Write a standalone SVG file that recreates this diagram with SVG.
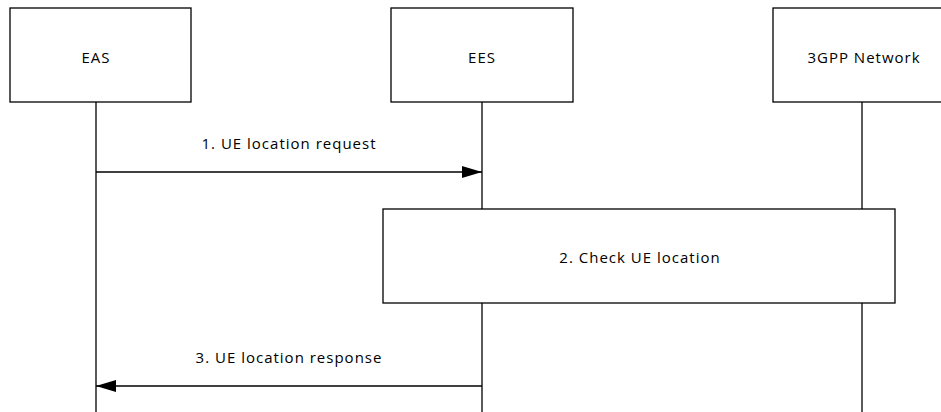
<svg xmlns="http://www.w3.org/2000/svg" width="941" height="412" viewBox="0 0 941 412">
<style>
.box{fill:#fff;stroke:#000;stroke-width:1.3}
.life{stroke:#000;stroke-width:1.3;fill:none}
.msg{stroke:#000;stroke-width:1.3;fill:none}
text{font-family:"Open Sans","Liberation Sans",sans-serif;font-size:15px;letter-spacing:1px;fill:#000;text-anchor:middle}
</style>
<defs>
<marker id="ah" viewBox="0 0 20 12" refX="20" refY="6" markerWidth="20" markerHeight="12" markerUnits="userSpaceOnUse" orient="auto">
<path d="M0,0 L20,6 L0,12 Z" fill="#000"/>
</marker>
</defs>
<g id="lifelines">
<line class="life" x1="96" y1="102" x2="96" y2="412"/>
<line class="life" x1="482" y1="102" x2="482" y2="209"/>
<line class="life" x1="482" y1="303" x2="482" y2="412"/>
<line class="life" x1="862" y1="102" x2="862" y2="209"/>
<line class="life" x1="862" y1="303" x2="862" y2="412"/>
</g>
<g id="EAS">
<rect class="box" x="10" y="8" width="181" height="94"/>
<text x="96" y="63">EAS</text>
</g>
<g id="EES">
<rect class="box" x="391" y="8" width="182" height="94"/>
<text x="482" y="63">EES</text>
</g>
<g id="N3GPP">
<rect class="box" x="773" y="8" width="180" height="94"/>
<text x="864" y="63">3GPP Network</text>
</g>
<g id="check">
<rect class="box" x="383" y="209" width="512" height="94"/>
<text x="640" y="263">2. Check UE location</text>
</g>
<g id="connectors">
<line class="msg" x1="96" y1="172" x2="482" y2="172" marker-end="url(#ah)"/>
<text x="289" y="149">1. UE location request</text>
<line class="msg" x1="482" y1="386" x2="96" y2="386" marker-end="url(#ah)"/>
<text x="289" y="363">3. UE location response</text>
</g>
</svg>
